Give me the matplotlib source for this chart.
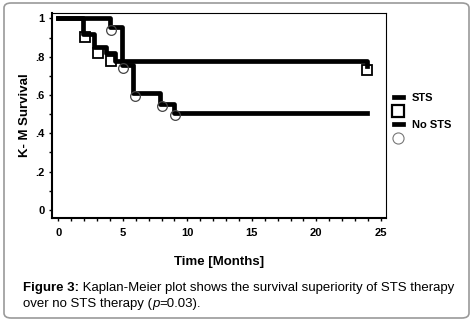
import matplotlib.pyplot as plt
from matplotlib.lines import Line2D
from matplotlib.patches import FancyBboxPatch

plt.rcParams['font.family'] = ['Liberation Sans', 'DejaVu Sans']

# Kaplan-Meier step curves
sts_time = [0, 1.95, 2.8, 3.7, 4.4, 23.9]
sts_surv = [1, 0.92, 0.85, 0.82, 0.78, 0.75]
nosts_time = [0, 4.0, 4.9, 5.8, 7.9, 8.95, 23.9]
nosts_surv = [1, 0.955, 0.755, 0.61, 0.555, 0.505, 0.505]

# marker positions
sts_mark_x = [2.07, 3.1, 4.05, 23.9]
sts_mark_y = [0.905, 0.82, 0.775, 0.73]
nosts_mark_x = [4.1, 5.05, 5.95, 8.0, 9.05]
nosts_mark_y = [0.94, 0.74, 0.595, 0.545, 0.495]

xticks = [0, 5, 10, 15, 20, 25]
yticks = [0, 0.2, 0.4, 0.6, 0.8, 1]
ytick_labels = ['0', '.2', '.4', '.6', '.8', '1']

fig = plt.figure(figsize=(4.77, 3.31), dpi=100)
frame = FancyBboxPatch((4/477, 1 - 318/331), 465/477, 315/331,
                       boxstyle='round,pad=0,rounding_size=0.015',
                       transform=fig.transFigure, fc='white',
                       ec='#9a9a9a', lw=1.2, zorder=-5)
fig.patches.append(frame)

ax = fig.add_axes([52/477, 1 - 218/331, (386 - 52)/477, (218 - 13)/331])
ax.patch.set_alpha(0)
ax.step(sts_time, sts_surv, where='post', color='black', lw=3.4)
ax.step(nosts_time, nosts_surv, where='post', color='black', lw=3.4)
ax.plot(sts_mark_x, sts_mark_y, ls='none', marker='s', ms=7.5, mfc='none',
        mec='black', mew=1.3)
ax.plot(nosts_mark_x, nosts_mark_y, ls='none', marker='o', ms=7, mfc='none',
        mec='#444444', mew=0.9)

ax.set_xlim(-0.49, 25.4)
ax.set_ylim(-0.042, 1.028)
ax.set_xticks(xticks)
ax.set_xticks(range(0, 26), minor=True)
ax.set_yticks(yticks)
ax.set_yticklabels(ytick_labels)
ax.set_yticks([i / 10 for i in range(11)], minor=True)
for lab in ax.get_xticklabels() + ax.get_yticklabels():
    lab.set_fontweight('bold')
    lab.set_fontsize(8)
ax.tick_params(which='both', direction='out', length=2.5, width=1)
ax.tick_params(axis='x', pad=5)
ax.tick_params(axis='y', pad=3)
ax.spines['left'].set_linewidth(1.5)
ax.spines['bottom'].set_linewidth(1.5)
ax.spines['top'].set_linewidth(0.8)
ax.spines['right'].set_linewidth(0.8)

ax.set_xlabel('Time [Months]', fontweight='bold', fontsize=9.5, labelpad=13)
ax.set_ylabel('K- M Survival', fontweight='bold', fontsize=9.5, labelpad=3)

handles = [Line2D([], [], color='black', lw=3.4),
           Line2D([], [], ls='none', marker='s', ms=9, mfc='none', mec='black', mew=1.6),
           Line2D([], [], color='black', lw=3.4),
           Line2D([], [], ls='none', marker='o', ms=8, mfc='none', mec='#777777', mew=0.8)]
ax.legend(handles, ['STS', '', 'No STS', ''], loc='upper left',
          bbox_to_anchor=(1.0, 0.65), frameon=False, handlelength=0.85,
          handletextpad=0.8, labelspacing=0.35, borderaxespad=0.3,
          prop={'weight': 'bold', 'size': 8})

# caption, pieced together so bold/italic parts sit inline
fs = 9.5
t1 = fig.text(23/477, 1 - 291/331, 'Figure 3:', fontsize=fs, fontweight='bold',
              va='baseline')
t2 = ax.annotate(' Kaplan-Meier plot shows the survival superiority of STS therapy',
                 xy=(1, 0), xycoords=t1, va='bottom', fontsize=fs,
                 annotation_clip=False)
t3 = fig.text(23/477, 1 - 307/331, 'over no STS therapy (', fontsize=fs,
              va='baseline')
t4 = ax.annotate('p', xy=(1, 0), xycoords=t3, va='bottom', fontsize=fs,
                 style='italic', annotation_clip=False)
t5 = ax.annotate('=0.03).', xy=(1, 0), xycoords=t4, va='bottom', fontsize=fs,
                 annotation_clip=False)

fig.savefig('out.png', dpi=100)
